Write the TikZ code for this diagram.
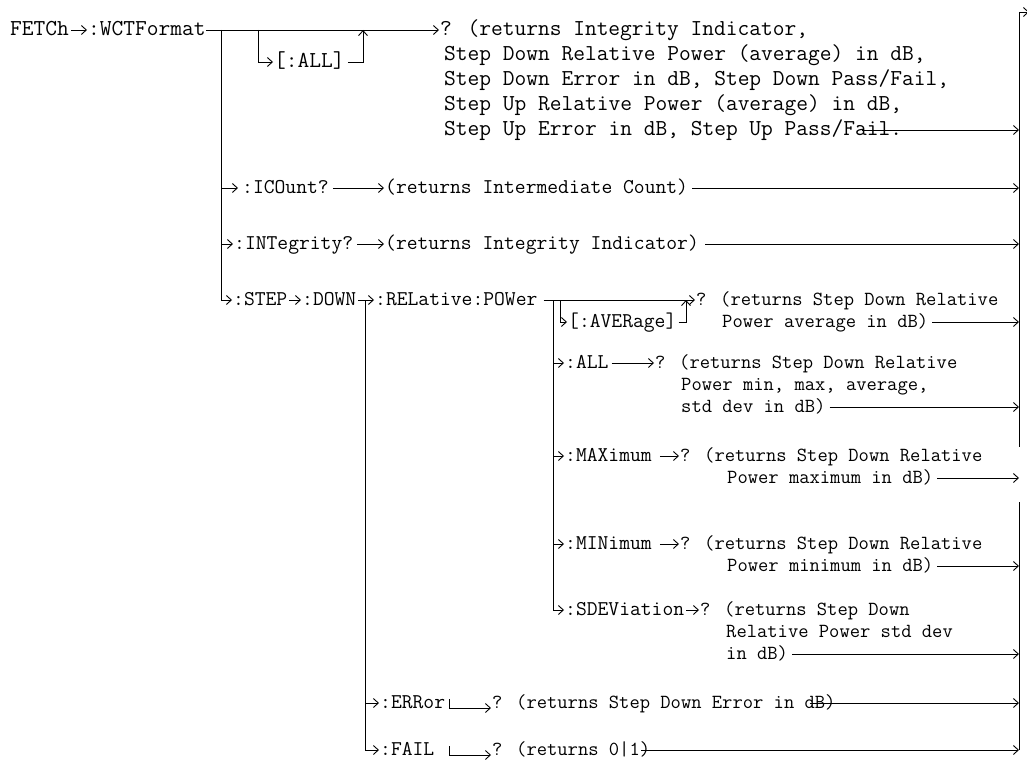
\documentclass[tikz,border=0pt]{standalone}
\usepackage{fontspec}
\usetikzlibrary{arrows.meta}
\begin{document}
\begin{tikzpicture}[x=1pt,y=-1pt,
  ln/.style={line width=0.9pt},
  arr/.style={ln,-{Straight Barb[length=5pt,width=9pt,line width=0.9pt]}},
  big/.style={font=\ttfamily\fontsize{22.8pt}{25pt}\selectfont,inner sep=0pt,anchor=west,text height=16pt,text depth=4.6pt},
  kw/.style={font=\ttfamily\fontsize{21pt}{23pt}\selectfont,inner sep=0pt,anchor=west,text height=14.7pt,text depth=4.2pt},
  rt/.style={font=\ttfamily\fontsize{20pt}{22pt}\selectfont,inner sep=0pt,anchor=west,text height=14pt,text depth=4pt}]
\useasboundingbox (0,0) rectangle (1027,762);
% right collector line
\coordinate (R0) at (1019,12);
\coordinate (Rg1) at (1019,447);
\coordinate (Rg2) at (1019,502);
\coordinate (R1) at (1019,750);
\coordinate (Rx) at (1029,12);
\draw[ln] (R0) -- (Rg1);
\draw[ln] (Rg2) -- (R1);
\draw[arr] (R0) -- (Rx);
% row 1
\node[big] (fetch) at (10,30) {FETCh};
\node[big] (wct) at (88,30) {:WCTFormat};
\node[big] (q1) at (440,30) {? (returns Integrity Indicator,};
\node[big] (t2) at (444,55) {Step Down Relative Power (average) in dB,};
\node[big] (t3) at (444,80) {Step Down Error in dB, Step Down Pass/Fail,};
\node[big] (t4) at (444,105) {Step Up Relative Power (average) in dB,};
\node[big] (t5) at (444,130) {Step Up Error in dB, Step Up Pass/Fail.};
\node[big] (all1) at (274,62) {[:ALL]};
\coordinate (b1) at (221,30);
\coordinate (b2) at (258,30);
\coordinate (b3) at (363,30);
\draw[arr,shorten <=2pt,shorten >=1pt] (fetch) -- (wct);
\draw[arr,shorten >=1pt] (wct.east) -- (q1.west);
\draw[arr,shorten >=1pt] (b2) |- (all1.west);
\draw[arr,shorten <=3pt] (all1.east) -| (b3);
\draw[arr] ([xshift=-40pt]t5.east) -- (t5.east -| R0);
% ICOunt / INTegrity / STEP
\node[kw] (icount) at (242,188) {:ICOunt?};
\node[kw] (iq) at (385,188) {(returns Intermediate Count)};
\node[kw] (integ) at (234,244) {:INTegrity?};
\node[kw] (intq) at (385,244) {(returns Integrity Indicator)};
\node[kw] (step) at (233,300) {:STEP};
\node[kw] (down) at (302,300) {:DOWN};
\node[kw] (rel) at (375,300) {:RELative:POWer};
\draw[arr,shorten >=4pt] (b1 |- icount.west) -- (icount.west);
\draw[arr,shorten >=1pt] (b1 |- integ.west) -- (integ.west);
\draw[arr,shorten >=1pt] (b1) |- (step.west);
\draw[arr,shorten <=4pt,shorten >=1pt] (icount.east) -- (iq.west);
\draw[arr,shorten <=4pt,shorten >=1pt] (integ.east) -- (intq.west);
\draw[arr,shorten <=4pt] (iq.east) -- (iq.east -| R0);
\draw[arr,shorten <=6pt] (intq.east) -- (intq.east -| R0);
\draw[arr,shorten <=2pt,shorten >=1pt] (step) -- (down);
\draw[arr,shorten <=2pt,shorten >=1pt] (down) -- (rel);
% RELative:POWer branch
\coordinate (d0) at (365,300);
\coordinate (r0) at (553,300);
\coordinate (r1) at (560,300);
\coordinate (r2) at (686,300);
\node[rt] (aq1) at (696,300) {? (returns Step Down Relative};
\node[rt] (aq2) at (722,322) {Power average in dB)};
\node[kw] (averkw) at (568,322) {[:AVERage]};
\draw[arr,shorten <=6pt,shorten >=1pt] (rel.east) -- (aq1.west);
\draw[arr,shorten >=1pt] (r1) |- (averkw.west);
\draw[arr,shorten <=2pt] (averkw.east) -| (r2);
\draw[arr,shorten <=4pt] (aq2.east) -- (aq2.east -| R0);
% ALL
\node[kw] (allkw) at (565,363) {:ALL};
\node[rt] (alq1) at (655,363) {? (returns Step Down Relative};
\node[rt] (alq2) at (681,385) {Power min, max, average,};
\node[rt] (alq3) at (681,407) {std dev in dB)};
\draw[arr,shorten >=1pt] (r0 |- allkw.west) -- (allkw.west);
\draw[arr,shorten <=3pt,shorten >=1pt] (allkw.east) -- (alq1.west);
\draw[arr,shorten <=4pt] (alq3.east) -- (alq3.east -| R0);
% MAXimum
\node[kw] (maxkw) at (565,456) {:MAXimum};
\node[rt] (mxq1) at (680,456) {? (returns Step Down Relative};
\node[rt] (mxq2) at (727,478) {Power maximum in dB)};
\draw[arr,shorten >=1pt] (r0 |- maxkw.west) -- (maxkw.west);
\draw[arr,shorten <=8pt,shorten >=1pt] (maxkw.east) -- (mxq1.west);
\draw[arr,shorten <=4pt] (mxq2.east) -- (mxq2.east -| R0);
% MINimum
\node[kw] (minkw) at (565,544) {:MINimum};
\node[rt] (mnq1) at (680,544) {? (returns Step Down Relative};
\node[rt] (mnq2) at (727,566) {Power minimum in dB)};
\draw[arr,shorten >=1pt] (r0 |- minkw.west) -- (minkw.west);
\draw[arr,shorten <=8pt,shorten >=1pt] (minkw.east) -- (mnq1.west);
\draw[arr,shorten <=4pt] (mnq2.east) -- (mnq2.east -| R0);
% SDEViation
\node[kw] (sdkw) at (565,610) {:SDEViation};
\node[rt] (sdq1) at (700,610) {? (returns Step Down};
\node[rt] (sdq2) at (726,632) {Relative Power std dev};
\node[rt] (sdq3) at (726,654) {in dB)};
\draw[arr,shorten >=1pt] (r0) |- (sdkw.west);
\draw[arr,shorten <=2pt,shorten >=1pt] (sdkw.east) -- (sdq1.west);
\draw[arr,shorten <=4pt] (sdq3.east) -- (sdq3.east -| R0);
% ERRor / FAIL
\node[kw] (errkw) at (380,703) {:ERRor};
\node[rt] (errq) at (492,703) {? (returns Step Down Error in dB)};
\node[kw] (failkw) at (380,750) {:FAIL};
\node[rt] (failq) at (492,750) {? (returns 0|1)};
\draw[arr,shorten >=1pt] (d0) |- (failkw.west);
\draw[arr,shorten >=1pt] (d0 |- errkw.west) -- (errkw.west);
\draw[arr,shorten >=1pt] ([xshift=4pt,yshift=4pt]errkw.east) |- ([yshift=-5pt]errq.west);
\draw[arr,shorten >=1pt] ([xshift=15pt,yshift=4pt]failkw.east) |- ([yshift=-5pt]failq.west);
\draw[arr] ([xshift=-26pt]errq.east) -- (errq.east -| R0);
\draw[arr] ([xshift=-9pt]failq.east) -- (failq.east -| R0);
\end{tikzpicture}
\end{document}
